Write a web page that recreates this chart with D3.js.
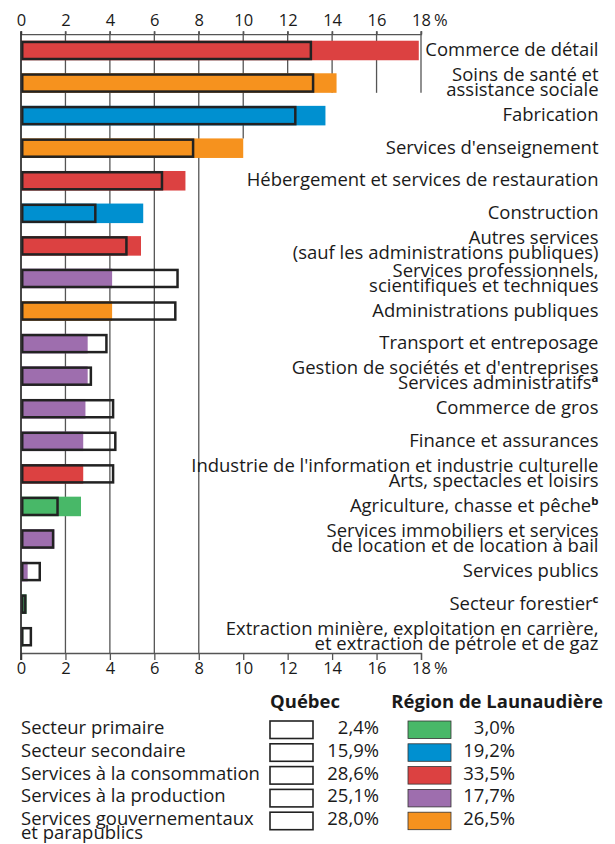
<!DOCTYPE html>
<html><head><meta charset="utf-8">
<script src="https://cdn.jsdelivr.net/npm/d3@7"></script>
<style>
html,body{margin:0;padding:0;background:#fff;}
svg{display:block;}
text{font-family:"Open Sans", sans-serif;fill:#1a1a1a;}
</style></head>
<body>
<svg id="chart" width="615" height="844"></svg>
<script>
// ---------- DATA ----------
const categories = [
  ["Commerce de détail"],
  ["Soins de santé et", "assistance sociale"],
  ["Fabrication"],
  ["Services d'enseignement"],
  ["Hébergement et services de restauration"],
  ["Construction"],
  ["Autres services", "(sauf les administrations publiques)"],
  ["Services professionnels,", "scientifiques et techniques"],
  ["Administrations publiques"],
  ["Transport et entreposage"],
  ["Gestion de sociétés et d'entreprises", "Services administratifs|a"],
  ["Commerce de gros"],
  ["Finance et assurances"],
  ["Industrie de l'information et industrie culturelle", "Arts, spectacles et loisirs"],
  ["Agriculture, chasse et pêche|b"],
  ["Services immobiliers et services", "de location et de location à bail"],
  ["Services publics"],
  ["Secteur forestier|c"],
  ["Extraction minière, exploitation en carrière,", "et extraction de pétrole et de gaz"]
];
const quebecValues = [13.1, 13.2, 12.4, 7.8, 6.4, 3.4, 4.8, 7.1, 7.0, 3.9, 3.2, 4.2, 4.3, 4.2, 1.7, 1.5, 0.9, 0.25, 0.5];
const regionValues = [17.9, 14.2, 13.7, 10.0, 7.4, 5.5, 5.4, 4.1, 4.1, 3.0, 3.0, 2.9, 2.8, 2.8, 2.7, 1.5, 0.3, 0.25, 0.1];
const categorySector = [2, 4, 1, 4, 2, 1, 2, 3, 4, 3, 3, 3, 3, 2, 0, 3, 3, 0, 0];

const sectors = [["Secteur primaire"], ["Secteur secondaire"], ["Services à la consommation"], ["Services à la production"], ["Services gouvernementaux", "et parapublics"]];
const sectorColors = ["#48b868", "#0090d0", "#dc4141", "#9e6eae", "#f6921e"];
const quebecShares = ["2,4%", "15,9%", "28,6%", "25,1%", "28,0%"];
const regionShares = ["3,0%", "19,2%", "33,5%", "17,7%", "26,5%"];
const tickValues = [0, 2, 4, 6, 8, 10, 12, 14, 16, 18];
const legendHeaders = ["Québec", "Région de Launaudière"];

// ---------- LAYOUT ----------
const FONT = '"Open Sans", sans-serif';
const svg = d3.select("#chart");
const x = d3.scaleLinear().domain([0, 18]).range([21, 421]);
const idx = d3.range(categories.length);
const y = d3.scaleBand().domain(idx).range([34.2, 653]).paddingInner(0.4).paddingOuter(0.2);
const bw = y.bandwidth();

// calibrate font size so the one-line label has the reference width
const probe = svg.append("text").attr("font-size", 100).text("Hébergement et services de restauration");
const fs = 100 * 352 / probe.node().getComputedTextLength();
probe.remove();

// grid lines
const axisTop = 34.2, axisBottom = 653;
const gridEnd = v => v >= 12 ? y(1) + bw : (v === 10 ? y(3) : axisBottom);
svg.append("g").selectAll("line").data(tickValues.filter(v => v > 0)).join("line")
  .attr("x1", d => x(d)).attr("x2", d => x(d))
  .attr("y1", axisTop - 3).attr("y2", d => gridEnd(d))
  .attr("stroke", "#555").attr("stroke-width", 1.3);

// axes
const topAxis = svg.append("g").attr("transform", `translate(0,${axisTop})`)
  .call(d3.axisTop(x).tickValues(tickValues).tickSize(3).tickPadding(5).tickFormat(d3.format("d")));
const botAxis = svg.append("g").attr("transform", `translate(0,${axisBottom})`)
  .call(d3.axisBottom(x).tickValues(tickValues).tickSize(7).tickPadding(2).tickFormat(d3.format("d")));
[topAxis, botAxis].forEach(g => {
  g.select(".domain").attr("stroke", "#555").attr("stroke-width", 1.3);
  g.selectAll(".tick line").attr("stroke", "#555").attr("stroke-width", 1.3);
  g.selectAll(".tick text").attr("font-family", FONT).attr("font-size", 16.5).attr("fill", "#1a1a1a");
});
[[topAxis, -8], [botAxis, 20.7]].forEach(([g, dy]) => {
  g.append("text").attr("x", x(18) + 13).attr("y", dy).attr("font-size", 16.5)
    .attr("text-anchor", "start")
    .attr("font-family", FONT).attr("fill", "#1a1a1a").text("%");
});

// region bars (filled)
svg.append("g").selectAll("rect").data(idx).join("rect")
  .attr("x", x(0)).attr("y", i => y(i))
  .attr("width", i => x(regionValues[i]) - x(0)).attr("height", bw)
  .attr("fill", i => sectorColors[categorySector[i]]);

// Québec bars (outline)
const sw = 2.5;
svg.append("g").selectAll("rect").data(idx).join("rect")
  .attr("x", x(0) + sw / 2).attr("y", i => y(i) + sw / 2)
  .attr("width", i => Math.max(0.5, x(quebecValues[i]) - x(0) - sw)).attr("height", bw - sw)
  .attr("fill", "none").attr("stroke", "#222").attr("stroke-width", sw);

// left axis line
svg.append("line").attr("x1", x(0)).attr("x2", x(0)).attr("y1", axisTop - 3).attr("y2", axisBottom + 7)
  .attr("stroke", "#333").attr("stroke-width", 1.8);

// category labels
const lineGap = 15;
const lab = svg.append("g").selectAll("text").data(idx).join("text")
  .attr("text-anchor", "end").attr("font-size", fs);
lab.each(function(i) {
  const lines = categories[i];
  const cy = y(i) + bw / 2 - 1;
  const t = d3.select(this);
  lines.forEach((ln, k) => {
    const base = cy + (k - (lines.length - 1) / 2) * lineGap + fs * 0.36;
    const parts = ln.split("|");
    t.append("tspan").attr("x", 598.5).attr("y", base).text(parts[0]);
    if (parts[1]) {
      t.append("tspan").attr("font-size", fs * 0.62).attr("font-weight", "bold").attr("dy", -fs * 0.38).text(parts[1]);
    }
  });
});

// ---------- LEGEND ----------
const leg = svg.append("g");
leg.append("text").attr("x", 305).attr("y", 708).attr("text-anchor", "middle")
  .attr("font-weight", "bold").attr("font-size", fs).text(legendHeaders[0]);
leg.append("text").attr("x", 603).attr("y", 708).attr("text-anchor", "end")
  .attr("font-weight", "bold").attr("font-size", fs).text(legendHeaders[1]);
const rowStep = 22.8, firstBase = 734;
sectors.forEach((s, k) => {
  const b = firstBase + k * rowStep;
  const t = leg.append("text").attr("font-size", fs);
  s.forEach((ln, j) => t.append("tspan").attr("x", 21).attr("y", b + j * 14).text(ln));
  leg.append("rect").attr("x", 270).attr("y", b - 13).attr("width", 43).attr("height", 17.5)
    .attr("fill", "#fff").attr("stroke", "#222").attr("stroke-width", 1.6);
  leg.append("text").attr("x", 379).attr("y", b).attr("text-anchor", "end").attr("font-size", fs).text(quebecShares[k]);
  leg.append("rect").attr("x", 408).attr("y", b - 13).attr("width", 43).attr("height", 17.5)
    .attr("fill", sectorColors[k]).attr("stroke", "#333").attr("stroke-width", 0.8);
  leg.append("text").attr("x", 515).attr("y", b).attr("text-anchor", "end").attr("font-size", fs).text(regionShares[k]);
});
</script>
</body></html>
